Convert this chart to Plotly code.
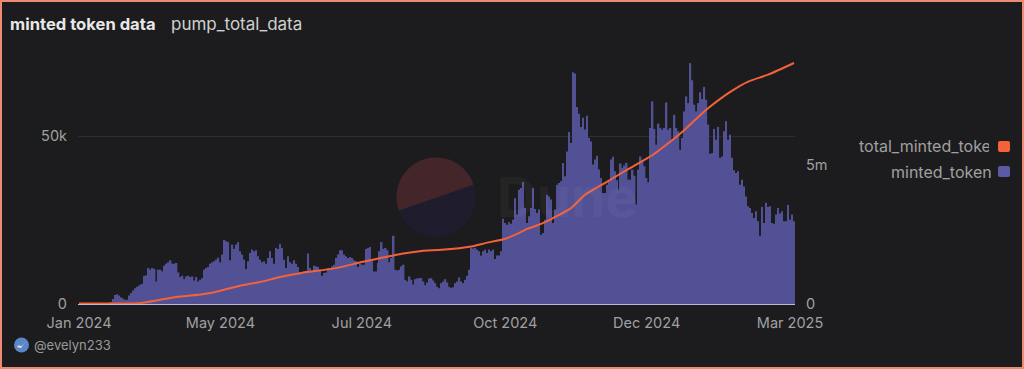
import numpy as np
import plotly.graph_objects as go

title = "minted token data"
subtitle = "pump_total_data"
series_bar = "minted_token"
series_line = "total_minted_token"
tick_labels = ["Jan 2024", "May 2024", "Jul 2024", "Oct 2024", "Dec 2024", "Mar 2025"]
tick_idx = [0, 71, 142, 214, 285, 357]

minted = [0]*16 + [
0.5,1.5,2.7,2.9,2.5,2.0,1.6,1.3,1.3,2.5,3.3,4.0,4.7,5.1,5.4,5.7,6.0,8.4,8.5,10.7,10.2,10.7,10.4,6.7,10.2,10.2,9.7,11.4,12.0,12.4,
13.0,12.0,12.0,12.2,9.4,8.0,8.4,7.4,8.2,8.4,8.0,8.2,7.0,8.0,6.7,7.2,7.7,10.2,10.7,11.0,12.0,12.4,12.7,13.2,13.8,12.4,14.7,19.1,18.7,18.4,
13.0,17.7,16.4,17.7,18.4,15.7,14.7,13.2,10.4,12.7,15.2,16.2,15.7,16.0,14.2,13.2,12.4,12.7,12.0,13.7,15.7,13.7,12.0,16.7,16.4,17.9,16.7,13.2,10.7,14.2,
12.4,12.0,13.0,12.0,11.0,9.4,9.4,9.7,9.9,15.0,10.7,9.7,11.4,11.2,11.0,10.2,8.4,9.2,9.4,10.7,10.4,11.2,11.7,13.7,14.7,16.0,16.0,14.7,14.2,13.7,
14.0,13.7,13.0,12.7,11.0,12.0,11.7,11.7,16.4,16.7,17.0,12.7,9.7,9.7,12.2,15.7,18.4,16.4,16.7,16.0,12.4,13.7,20.3,10.2,10.0,
10.2,11.2,11.7,7.2,6.7,8.2,7.2,5.8,7.4,7.6,7.7,7.7,6.7,5.6,6.4,7.6,7.7,7.0,6.2,5.1,4.7,6.2,6.7,7.4,6.4,5.1,4.8,5.0,6.2,6.7,
7.9,6.7,6.2,7.2,8.4,10.2,16.7,16.5,16.7,16.2,15.7,14.4,15.7,16.2,15.2,16.2,15.7,16.2,13.4,14.4,14.4,15.7,25.4,24.1,23.6,24.3,23.9,25.1,31.5,26.6,
34.0,34.5,36.3,28.6,24.1,26.1,28.6,34.5,28.3,27.1,28.1,20.6,21.1,25.1,32.5,32.0,31.1,24.1,28.1,35.5,36.0,36.5,42.0,38.0,45.4,51.2,47.9,69.0,68.6,58.6,
56.6,52.7,55.4,51.9,56.0,49.4,48.4,41.5,43.0,44.1,40.0,37.5,33.0,33.0,35.5,36.5,
43.0,43.8,39.5,36.8,34.0,41.8,40.5,41.2,42.0,37.0,37.0,40.0,38.2,29.6,40.0,43.9,42.5,41.0,37.5,36.2,52.4,60.3,52.1,47.4,53.7,52.4,51.9,52.4,60.0,51.9,
52.4,48.9,56.3,52.4,51.4,45.9,49.4,57.3,61.8,59.8,71.7,66.6,59.3,57.3,59.8,63.0,61.0,64.6,60.8,53.4,44.7,44.9,52.1,48.9,52.7,43.5,43.9,51.4,54.4,48.9,
50.4,43.5,39.8,39.0,39.5,35.5,37.0,35.0,32.0,29.1,28.6,27.1,25.6,27.6,24.6,20.3,28.9,24.1,30.1,28.9,29.1,24.1,23.9,26.6,28.6,26.9,27.6,24.6,24.6,29.5,
25.1,26.6,24.6]

line_idx = [0,16,30,41,49,63,71,81,91,101,111,129,142,152,162,172,182,197,204,214,220,225,232,238,247,254,264,274,288,296,304,312,316,327,336,346,359]
line_m = [0.02,0.02,0.03,0.156,0.252,0.36,0.48,0.66,0.79,0.97,1.11,1.29,1.51,1.66,1.81,1.91,1.95,2.07,2.19,2.35,2.52,2.70,2.88,3.09,3.45,3.92,4.35,4.78,5.36,5.79,6.26,6.8,7.05,7.63,8.0,8.25,8.67]

W, H = 1024, 369
L, R, T, B = 78, 229, 55, 65
PW, PH = W - L - R, H - T - B
def px(x): return (x - L) / PW
def py(y): return 1 - (y - T) / PH
def poly(pts):
    return "M " + " L ".join(f"{px(a):.5f},{py(b):.5f}" for a, b in pts) + " Z"
def rsq(x0, y0, x1, y1, r=2):
    return (f"M {px(x0+r):.5f},{py(y0):.5f} L {px(x1-r):.5f},{py(y0):.5f} Q {px(x1):.5f},{py(y0):.5f} {px(x1):.5f},{py(y0+r):.5f} "
            f"L {px(x1):.5f},{py(y1-r):.5f} Q {px(x1):.5f},{py(y1):.5f} {px(x1-r):.5f},{py(y1):.5f} "
            f"L {px(x0+r):.5f},{py(y1):.5f} Q {px(x0):.5f},{py(y1):.5f} {px(x0):.5f},{py(y1-r):.5f} "
            f"L {px(x0):.5f},{py(y0+r):.5f} Q {px(x0):.5f},{py(y0):.5f} {px(x0+r):.5f},{py(y0):.5f} Z")
def sector(cx, cy, r, a0, a1):
    t = np.radians(np.linspace(a0, a1, 90))
    return poly(list(zip(cx + r*np.cos(t), cy + r*np.sin(t))))

x = list(range(len(minted)))
fig = go.Figure()
fig.add_bar(x=x, y=[v*1000 for v in minted], marker=dict(color="#525196", line_width=0), name=series_bar, showlegend=False, yaxis="y")
fig.add_scatter(x=line_idx, y=[v*1e6 for v in line_m], mode="lines", line=dict(color="#f4623a", width=2, shape="spline", smoothing=0.6),
                name=series_line, showlegend=False, yaxis="y2", cliponaxis=False)

cx, cy, r = 436, 197, 39.5
shapes = [
    dict(type="path", path=sector(cx, cy, r, -18, 160), xref="paper", yref="paper", fillcolor="#1f1c2e", line_width=0, layer="below"),
    dict(type="path", path=sector(cx, cy, r, 160, 342), xref="paper", yref="paper", fillcolor="#44262a", line_width=0, layer="below"),
    dict(type="path", path=rsq(998, 141, 1010, 152), xref="paper", yref="paper", fillcolor="#f4623a", line_width=0),
    dict(type="path", path=rsq(998, 166, 1010, 177), xref="paper", yref="paper", fillcolor="#5a5aa5", line_width=0),
    dict(type="circle", x0=px(14), x1=px(29), y0=py(352.5), y1=py(337.5), xref="paper", yref="paper", fillcolor="#5b86c8", line_width=0),
    dict(type="path", path=poly([(17, 347), (21, 348), (26, 341), (22, 346), (18, 345.5)]), xref="paper", yref="paper", fillcolor="#e8e4d0", line_width=0),
    dict(type="rect", x0=px(1), x1=px(W-1), y0=py(H-1), y1=py(1), xref="paper", yref="paper", line=dict(color="#ee8a72", width=2), fillcolor="rgba(0,0,0,0)"),
]

FONT = "Inter, sans-serif"
def ann(text, xp, yp, size, color, anchor="left", **kw):
    return dict(text=text, x=px(xp), y=py(yp), xref="paper", yref="paper", showarrow=False, xanchor=anchor, yanchor="middle",
                font=dict(size=size, color=color, family=FONT), **kw)

annotations = [
    ann("<b>Dune</b>", 495, 197, 55, "rgba(255,255,255,0.035)"),
    ann(f"<b>{title}</b>", 8, 24, 16.6, "#e8e8e8"),
    ann(subtitle, 169, 24, 17, "#d0d0d0"),
    ann(series_line[:-1], 857, 146, 16, "#a0a0a0"),
    ann(" ", 988.5, 146, 8, "#000", bgcolor="#1c1c1e", width=6, height=20, borderpad=0, borderwidth=0),
    ann(series_bar, 994, 172, 16, "#a0a0a0", anchor="right"),
    ann("@evelyn233", 32, 345, 13, "#9a9a9a"),
]

fig.update_layout(
    width=W, height=H, margin=dict(l=L, r=R, t=T, b=B, pad=0),
    paper_bgcolor="#1c1c1e", plot_bgcolor="#1c1c1e",
    bargap=0.25, showlegend=False, shapes=shapes, annotations=annotations,
    font=dict(family=FONT, color="#a0a0a0", size=14.5),
    xaxis=dict(range=[-0.5, len(minted)-0.5], tickmode="array", tickvals=tick_idx, ticktext=tick_labels,
               showgrid=False, zeroline=False, showline=True, linecolor="#b9b9d6", linewidth=1, ticks="", layer="below traces",
               ticklabelstandoff=6, tickfont=dict(size=14.5, color="#a0a0a0")),
    yaxis=dict(range=[0, PH/3.36*1000], tickmode="array", tickvals=[0, 50000], ticktext=["0", "50k"],
               showgrid=True, gridcolor="#2d2d2f", gridwidth=1, zeroline=False, showline=False, ticks="",
               ticklabelstandoff=10, tickfont=dict(size=14.5, color="#a0a0a0")),
    yaxis2=dict(range=[0, PH/27.8*1e6], overlaying="y", side="right", tickmode="array", tickvals=[0, 5000000], ticktext=["0", "5m"],
                showgrid=False, zeroline=False, showline=False, ticks="", ticklabelstandoff=10,
                tickfont=dict(size=14.5, color="#a0a0a0")),
)

fig.write_html("out.html", config=dict(displayModeBar=False), post_script="document.body.style.margin='0';document.body.style.background='#1c1c1e';")
